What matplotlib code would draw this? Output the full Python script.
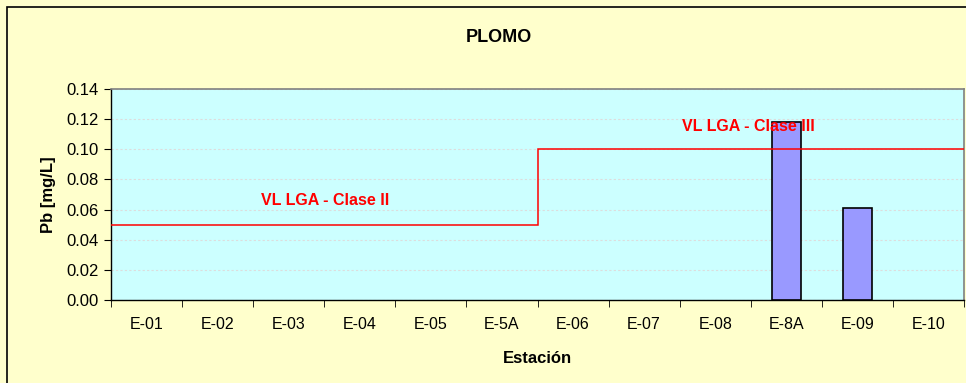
import numpy as np
import matplotlib
matplotlib.use("Agg")
import matplotlib.pyplot as plt
from matplotlib.patches import Rectangle

plt.rcParams['font.family'] = ['Liberation Sans', 'DejaVu Sans']

# datos
estaciones = ['E-01', 'E-02', 'E-03', 'E-04', 'E-05', 'E-5A',
              'E-06', 'E-07', 'E-08', 'E-8A', 'E-09', 'E-10']
plomo = [0, 0, 0, 0, 0, 0, 0, 0, 0, 0.118, 0.061, 0]
limite = [0.05, 0.05, 0.05, 0.05, 0.05, 0.05,
          0.10, 0.10, 0.10, 0.10, 0.10, 0.10]
y_ticks = [0.00, 0.02, 0.04, 0.06, 0.08, 0.10, 0.12, 0.14]

fig = plt.figure(figsize=(9.66, 3.83), dpi=100)
fig.patch.set_facecolor('#FFFFCC')
fig.patches.append(Rectangle((7 / 966, -0.05), 1.0, 1.05 - 7 / 383, transform=fig.transFigure,
                             fill=False, edgecolor='black', linewidth=1.2))

ax = fig.add_axes([111 / 966, 83 / 383, 853 / 966, 211 / 383])
ax.set_facecolor('#CCFFFF')

x = np.arange(len(estaciones))
bordes = ['black' if v > 0 else 'none' for v in plomo]
ax.bar(x, plomo, width=0.4, color='#9999FF', edgecolor=bordes, linewidth=1.2, zorder=3)
ax.stairs(limite, np.arange(len(estaciones) + 1) - 0.5, color='red', linewidth=1.1,
          baseline=None, zorder=4)

ax.text(2.51, 0.0657, 'VL LGA - Clase II', color='red', fontsize=11.5, fontweight='bold',
        ha='center', va='center', zorder=5)
ax.text(8.46, 0.1148, 'VL LGA - Clase III', color='red', fontsize=11.5, fontweight='bold',
        ha='center', va='center', zorder=5)

ax.set_xlim(-0.5, len(estaciones) - 0.5)
ax.set_ylim(0, 0.14)
ax.set_yticks(y_ticks)
ax.set_yticklabels([f'{v:.2f}' for v in y_ticks])
ax.set_xticks(x)
ax.set_xticklabels(estaciones)
ax.set_xticks(np.arange(len(estaciones) + 1) - 0.5, minor=True)
ax.tick_params(axis='x', which='major', length=0, pad=12, labelsize=11.5)
ax.tick_params(axis='x', which='minor', length=5, direction='out', color='black')
ax.tick_params(axis='y', length=5, direction='out', labelsize=12, pad=4)

ax.grid(axis='y', color='#DDDDDD', linestyle=(0, (2, 2)), linewidth=0.8, zorder=1)
ax.set_axisbelow(True)

for s in ['top', 'right']:
    ax.spines[s].set_color('#808080')
    ax.spines[s].set_linewidth(1.2)
for s in ['left', 'bottom']:
    ax.spines[s].set_color('black')
    ax.spines[s].set_linewidth(1.0)

ax.set_ylabel('Pb [mg/L]', fontsize=12, fontweight='bold', labelpad=7)
ax.set_xlabel('Estación', fontsize=12, fontweight='bold', labelpad=14)
fig.text(499 / 966, 1 - 38 / 383, 'PLOMO', fontsize=13, fontweight='bold',
         ha='center', va='center')

fig.savefig('out.png', dpi=100, facecolor=fig.get_facecolor())
